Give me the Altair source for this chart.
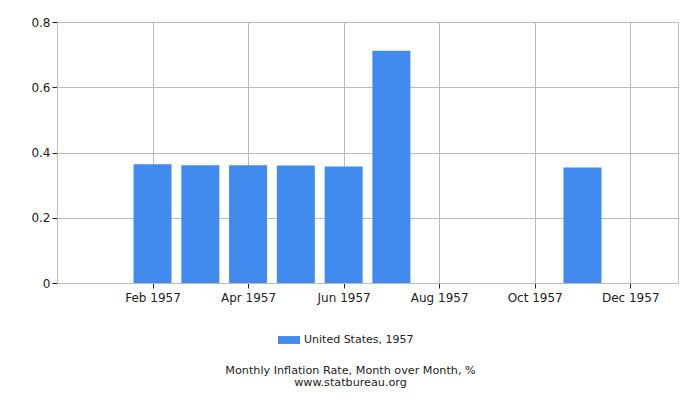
import altair as alt
import pandas as pd

months = ["Jan", "Feb", "Mar", "Apr", "May", "Jun", "Jul", "Aug", "Sep", "Oct", "Nov", "Dec"]
month_index = [1, 2, 3, 4, 5, 6, 7, 8, 9, 10, 11, 12]
values = [None, 0.364, 0.361, 0.361, 0.360, 0.357, 0.712, None, None, None, 0.354, None]
series = "United States, 1957"

df = pd.DataFrame({"idx": month_index, "month": months, "value": values, "series": series}).dropna()

label_expr = ("['', 'Jan', 'Feb', 'Mar', 'Apr', 'May', 'Jun', 'Jul', 'Aug', 'Sep', 'Oct', 'Nov', 'Dec', ''][datum.value] + ' 1957'")

FONT = "DejaVu Sans"

chart = alt.Chart(df).mark_bar(size=38).encode(
    x=alt.X("idx:Q", scale=alt.Scale(domain=[0, 13], nice=False, zero=False, padding=0),
            axis=alt.Axis(values=[2, 4, 6, 8, 10, 12], labelExpr=label_expr, title=None,
                          grid=True, gridColor="#bbbbbb", domainColor="#bbbbbb",
                          tickColor="#222222", tickSize=5, labelFont=FONT, labelFontSize=12,
                          labelColor="#222222", labelPadding=4)),
    y=alt.Y("value:Q", scale=alt.Scale(domain=[0, 0.8], nice=False, padding=0),
            axis=alt.Axis(values=[0, 0.2, 0.4, 0.6, 0.8],
                          labelExpr="datum.value == 0 ? '0' : format(datum.value, '.1f')",
                          title=None, grid=True, gridColor="#bbbbbb", domainColor="#bbbbbb",
                          tickColor="#222222", tickSize=5, labelFont=FONT, labelFontSize=12,
                          labelColor="#222222", labelPadding=2)),
    color=alt.Color("series:N", scale=alt.Scale(range=["#418bee"]),
                    legend=alt.Legend(title=None, orient="none", legendX=221, legendY=307,
                                      symbolType="M-1,-0.36H1V0.36H-1Z", symbolSize=484,
                                      symbolStrokeWidth=0, labelFont=FONT, labelFontSize=11,
                                      labelColor="#222222")),
).properties(
    width=621, height=261,
    padding={"left": 49, "top": 14, "right": 14, "bottom": 109},
    autosize=alt.AutoSizeParams(type="none"),
    title=alt.TitleParams(text=["Monthly Inflation Rate, Month over Month, %", "www.statbureau.org"],
                          orient="bottom", anchor="middle", font=FONT, fontSize=11.2,
                          fontWeight="normal", color="#222222", lineHeight=11.5, offset=20,
                          dx=-17),
).configure_view(stroke="#bbbbbb")

chart.save("out.html", embed_options={"renderer": "svg", "actions": False})
